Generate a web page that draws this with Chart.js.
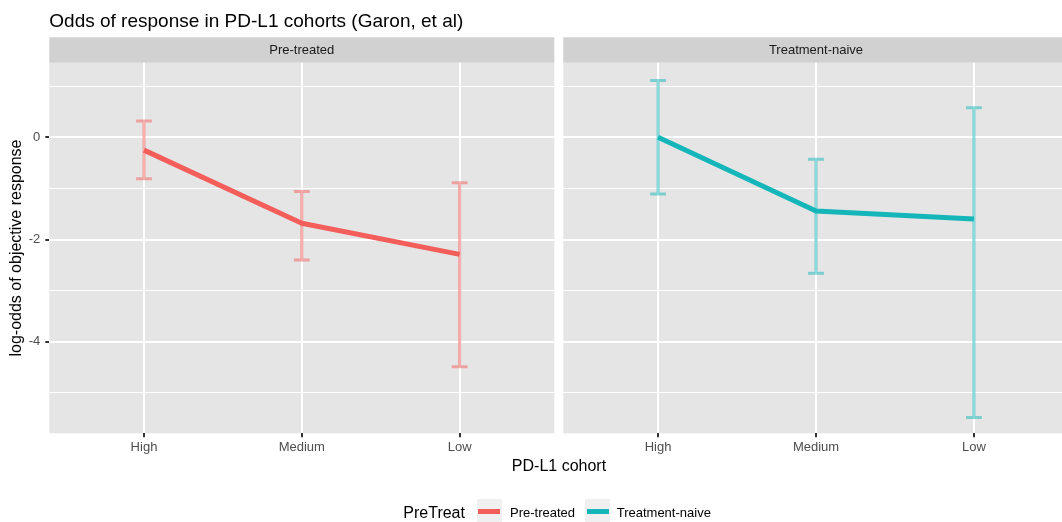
<!DOCTYPE html>
<html>
<head>
<meta charset="utf-8">
<title>Odds of response in PD-L1 cohorts</title>
<script src="https://cdn.jsdelivr.net/npm/chart.js@4/dist/chart.umd.min.js"></script>
<style>
  html, body { margin: 0; padding: 0; background: #fff; overflow: hidden; width: 1062px; height: 522px; }
  #wrap { position: relative; width: 1070px; height: 522px; font-family: "Liberation Sans", Arial, Helvetica, sans-serif; }
  canvas { position: absolute; left: 0; top: 0; }
  .txt { position: absolute; white-space: nowrap; }
  .key { position: absolute; width: 25px; height: 25px; background: #F0F0F0; }
  .key span { position: absolute; left: 1.5px; top: 10.3px; width: 22px; height: 4.8px; }
</style>
</head>
<body>
<div id="wrap">
  <canvas id="panelPre" width="1070" height="522"></canvas>
  <canvas id="panelNaive" width="1070" height="522"></canvas>

  <div class="txt" style="left:49.3px; top:10.6px; font-size:19px; line-height:19px; color:#000;">Odds of response in PD-L1 cohorts (Garon, et al)</div>
  <div class="txt" style="left:459px; width:200px; text-align:center; top:458.2px; font-size:16px; line-height:16px; color:#000;">PD-L1 cohort</div>

  <!-- legend -->
  <div class="txt" style="left:403.3px; top:504.5px; font-size:16px; line-height:16px; color:#000;">PreTreat</div>
  <div class="key" style="left:476.7px; top:499px;"><span style="background:#F35E5A"></span></div>
  <div class="txt" style="left:510px; top:506px; font-size:13px; line-height:13px; color:#000;">Pre-treated</div>
  <div class="key" style="left:585px; top:499px;"><span style="background:#14B6BA"></span></div>
  <div class="txt" style="left:616.7px; top:506px; font-size:13px; line-height:13px; color:#000;">Treatment-naive</div>
</div>

<script>
// PD-L1 expression cohorts (x axis categories)
const cohorts = ['High', 'Medium', 'Low'];

// facet names
const panels = ['Pre-treated', 'Treatment-naive'];

// log-odds of objective response: estimate with lower / upper interval
const preCentre   = [-0.25, -1.68, -2.29];
const preLower    = [-0.81, -2.40, -4.49];
const preUpper    = [ 0.32, -1.06, -0.89];

const naiveCentre = [ 0.00, -1.44, -1.60];
const naiveLower  = [-1.11, -2.66, -5.48];
const naiveUpper  = [ 1.11, -0.43,  0.58];

// y axis: ticks every unit, labels on even values
const yTicks = [1, 0, -1, -2, -3, -4, -5];
const yLimits = [-5.79, 1.46];

Chart.defaults.font.family = '"Liberation Sans", Arial, Helvetica, sans-serif';
Chart.defaults.animation = false;

const STRIP_TOP = 37.3;
const PANEL_TOP = 62.7;
const CANVAS_W = 1070;

function panelPlugin(label) {
  return {
    id: 'panelBackground',
    beforeDraw(chart) {
      const { ctx, chartArea: a } = chart;
      ctx.save();
      ctx.fillStyle = '#E5E5E5';
      ctx.fillRect(a.left, a.top, a.right - a.left, a.bottom - a.top);
      ctx.fillStyle = '#D1D1D1';
      ctx.fillRect(a.left, STRIP_TOP, a.right - a.left, a.top - STRIP_TOP);
      ctx.fillStyle = '#1A1A1A';
      ctx.font = '13px "Liberation Sans", Arial, sans-serif';
      ctx.textAlign = 'center';
      ctx.textBaseline = 'middle';
      ctx.fillText(label, (a.left + a.right) / 2, (STRIP_TOP + a.top) / 2 + 0.5);
      ctx.restore();
    }
  };
}

function errorBarPlugin(lower, upper, colour) {
  const capWidth = 0.1; // in category units
  return {
    id: 'errorBars',
    beforeDatasetsDraw(chart) {
      const { ctx, scales: { x, y } } = chart;
      ctx.save();
      ctx.strokeStyle = colour;
      ctx.lineWidth = 3;
      ctx.lineCap = 'butt';
      lower.forEach((lo, i) => {
        const pos = i + 1;
        const px = x.getPixelForValue(pos);
        const xl = x.getPixelForValue(pos - capWidth / 2);
        const xr = x.getPixelForValue(pos + capWidth / 2);
        const yl = y.getPixelForValue(lo);
        const yh = y.getPixelForValue(upper[i]);
        ctx.beginPath();
        ctx.moveTo(px, yl); ctx.lineTo(px, yh);
        ctx.moveTo(xl, yl); ctx.lineTo(xr, yl);
        ctx.moveTo(xl, yh); ctx.lineTo(xr, yh);
        ctx.stroke();
      });
      ctx.restore();
    }
  };
}

function makePanel(canvasId, label, centre, lower, upper, colour, barColour, showY, left, right) {
  return new Chart(document.getElementById(canvasId), {
    type: 'line',
    data: {
      datasets: [{
        label: label,
        data: centre.map((v, i) => ({ x: i + 1, y: v })),
        borderColor: colour,
        borderWidth: 5,
        pointRadius: 0,
        pointHoverRadius: 0,
        fill: false,
        tension: 0,
        borderJoinStyle: 'round',
        borderCapStyle: 'butt'
      }]
    },
    options: {
      responsive: false,
      animation: false,
      events: [],
      layout: { padding: { left: left, right: CANVAS_W - right, top: PANEL_TOP, bottom: 522 - 433.3 - 30 } },
      plugins: { legend: { display: false }, tooltip: { enabled: false }, title: { display: false } },
      scales: {
        x: {
          type: 'linear',
          min: 0.4,
          max: cohorts.length + 0.6,
          afterBuildTicks: s => { s.ticks = cohorts.map((c, i) => ({ value: i + 1 })); },
          afterFit: s => { s.height = 30; },
          border: { display: false },
          grid: { color: '#FFFFFF', lineWidth: 2, tickLength: 4, tickColor: '#333333', tickWidth: 2 },
          ticks: {
            color: '#4D4D4D', font: { size: 13 }, padding: 2, maxRotation: 0, autoSkip: false,
            callback: v => cohorts[Math.round(v) - 1] || ''
          }
        },
        y: {
          type: 'linear',
          min: yLimits[0],
          max: yLimits[1],
          afterBuildTicks: s => { s.ticks = yTicks.map(v => ({ value: v })); },
          afterFit: s => { s.width = showY ? 49.3 : 0; },
          border: { display: false },
          grid: {
            color: '#FFFFFF',
            lineWidth: c => (c.tick && c.tick.value % 2 === 0) ? 2 : 1,
            drawTicks: showY,
            tickLength: 4,
            tickWidth: 2,
            tickColor: c => (c.tick && c.tick.value % 2 === 0) ? '#333333' : 'rgba(0,0,0,0)'
          },
          ticks: {
            display: showY,
            color: '#4D4D4D', font: { size: 13 }, padding: 5,
            callback: v => (v % 2 === 0 ? String(v) : '')
          },
          title: {
            display: showY,
            text: 'log-odds of objective response',
            color: '#000000',
            font: { size: 16 },
            padding: { top: 7, bottom: 0 }
          }
        }
      }
    },
    plugins: [panelPlugin(label), errorBarPlugin(lower, upper, barColour)]
  });
}

makePanel('panelPre', panels[0], preCentre, preLower, preUpper,
  '#F35E5A', 'rgba(243,94,90,0.5)', true, 0, 554.3);
makePanel('panelNaive', panels[1], naiveCentre, naiveLower, naiveUpper,
  '#14B6BA', 'rgba(20,182,186,0.5)', false, 563.3, 1068.7);
</script>
</body>
</html>
